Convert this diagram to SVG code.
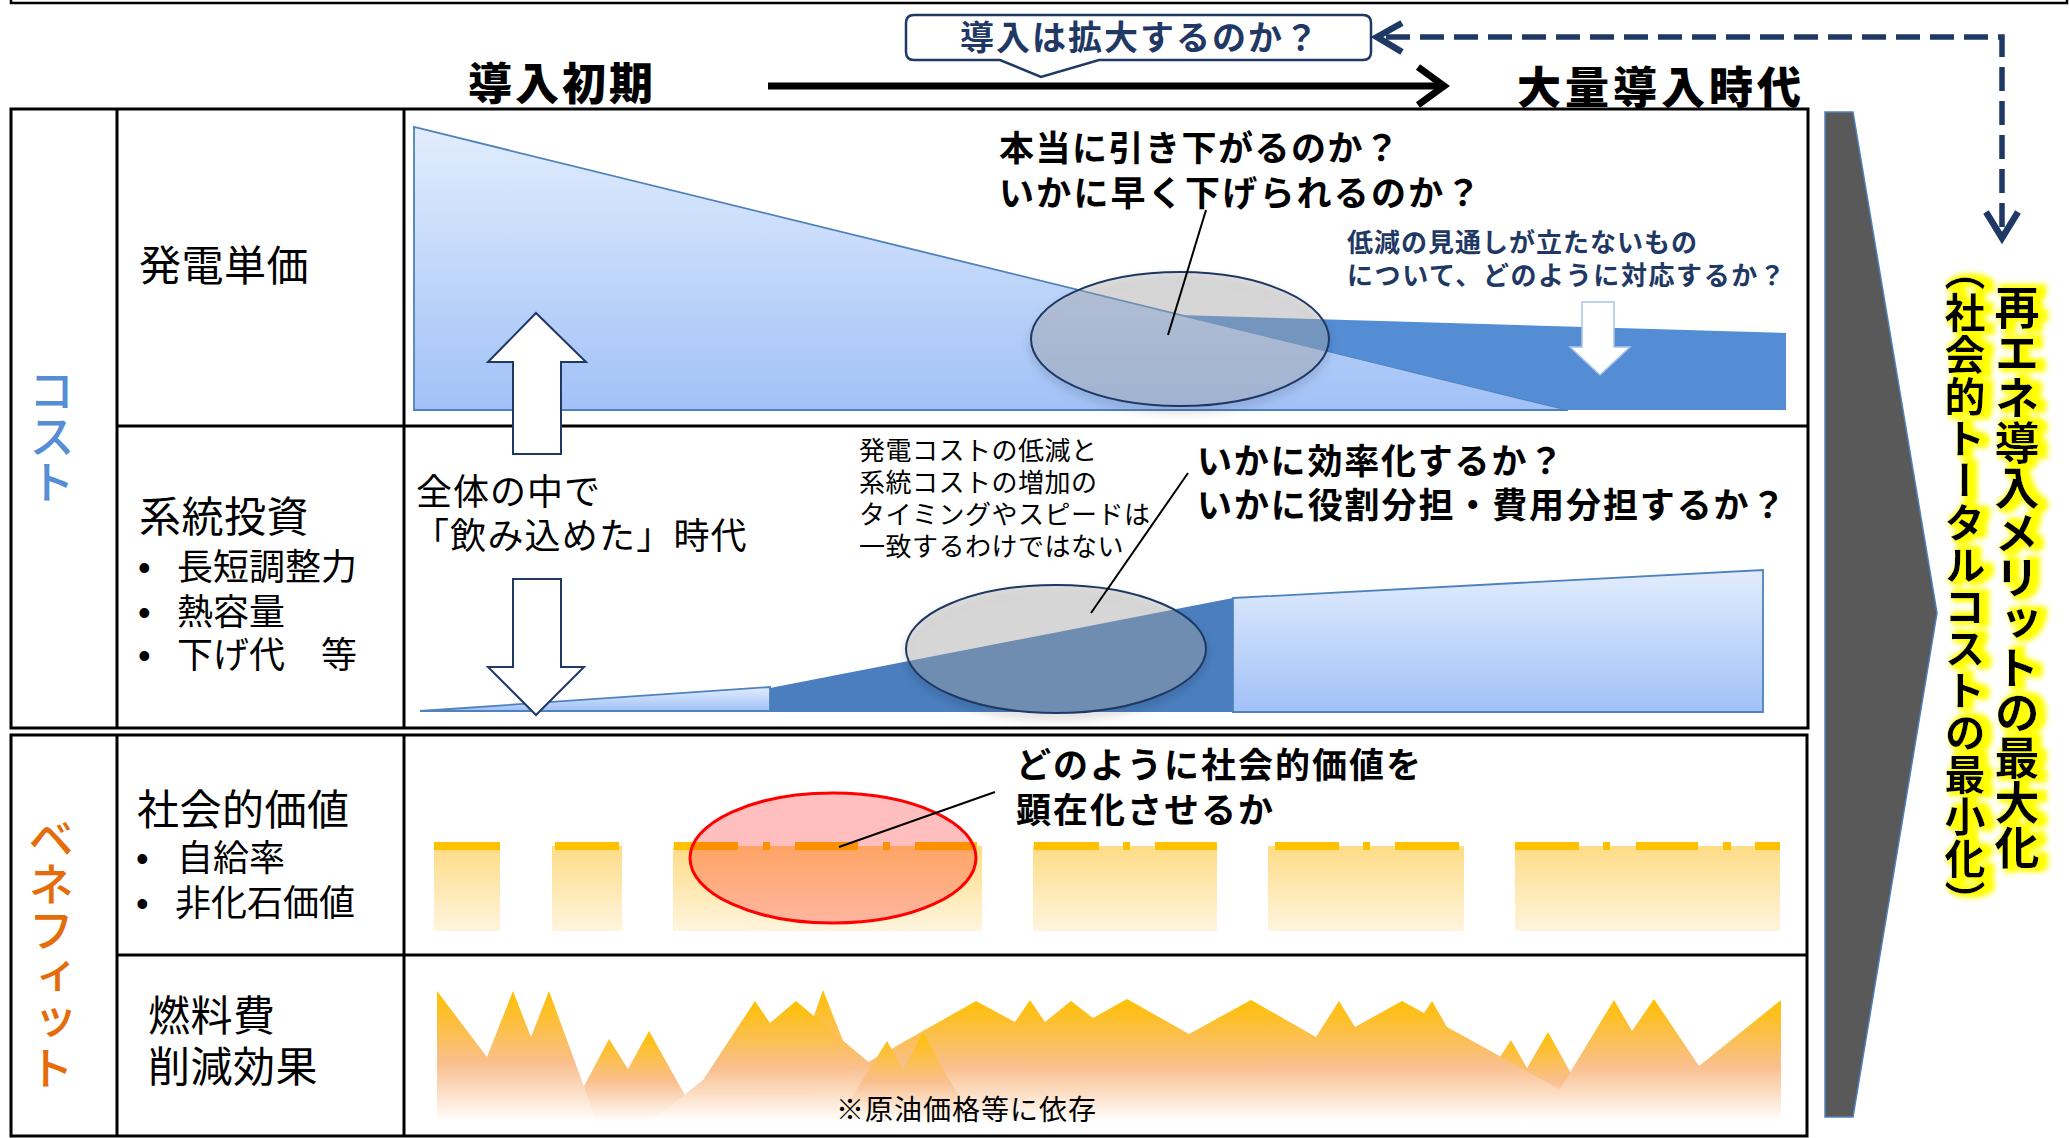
<svg xmlns="http://www.w3.org/2000/svg" width="2069" height="1138" viewBox="0 0 2069 1138">
<defs>
<style>
.t{font-family:"Liberation Sans","Noto Sans CJK JP","Noto Sans",sans-serif;}
.j{font-family:"Noto Sans CJK JP","Noto Sans",sans-serif;}
.lab{font-size:42px;fill:#000;letter-spacing:0.5px;}
.sub{font-size:36px;letter-spacing:0;}
.bul{font-family:"Liberation Sans",sans-serif;font-size:36px;}
.q{font-size:35px;font-weight:700;fill:#000;}
.navy{fill:#1f3864;font-weight:700;}
.grid{fill:none;stroke:#000;stroke-width:3;}
.call{stroke:#000;stroke-width:2;fill:none;}
.warr{fill:#fff;stroke:#1f3864;stroke-width:2;}
.lb{fill:url(#blueGrad);stroke:#4f81bd;stroke-width:1.8;}
.cap{fill:#ffc000;}
.bar{fill:url(#barGrad);}
.mtn{fill:url(#mtnGrad);}
.vert{writing-mode:vertical-rl;}
</style>
<linearGradient id="blueGrad" x1="0" y1="0" x2="0" y2="1">
<stop offset="0" stop-color="#e2edfd"/>
<stop offset="1" stop-color="#a1c1f7"/>
</linearGradient>
<linearGradient id="barGrad" x1="0" y1="0" x2="0" y2="1">
<stop offset="0" stop-color="#fedc86"/>
<stop offset="1" stop-color="#fff5de"/>
</linearGradient>
<linearGradient id="mtnGrad" x1="0" y1="0" x2="0" y2="1">
<stop offset="0" stop-color="#ffc000"/>
<stop offset="0.55" stop-color="#f9bf8e"/>
<stop offset="1" stop-color="#ffffff"/>
</linearGradient>
<filter id="shadow" x="-20%" y="-20%" width="140%" height="150%">
<feDropShadow dx="0" dy="5" stdDeviation="4" flood-color="#000" flood-opacity="0.25"/>
</filter>
<filter id="glow" x="-40%" y="-5%" width="180%" height="110%">
<feMorphology in="SourceAlpha" operator="dilate" radius="4" result="d"/>
<feGaussianBlur in="d" stdDeviation="2.5" result="b"/>
<feOffset in="b" dx="6" dy="0" result="o"/>
<feFlood flood-color="#ffff00"/>
<feComposite in2="o" operator="in" result="g"/>
<feMerge><feMergeNode in="g"/><feMergeNode in="SourceGraphic"/></feMerge>
</filter>
</defs>
<rect width="2069" height="1138" fill="#fff"/>

<!-- top frame line -->
<path d="M11,0 V3 H2067 V0" fill="none" stroke="#000" stroke-width="2.5"/>

<!-- table grid -->
<g id="table">
<rect class="grid" x="11" y="109" width="1797" height="619"/>
<line class="grid" x1="117" y1="109" x2="117" y2="728"/>
<line class="grid" x1="404" y1="109" x2="404" y2="728"/>
<line class="grid" x1="117" y1="426" x2="1808" y2="426"/>
<rect class="grid" x="11" y="735" width="1796" height="401"/>
<line class="grid" x1="117" y1="735" x2="117" y2="1136"/>
<line class="grid" x1="404" y1="735" x2="404" y2="1136"/>
<line class="grid" x1="117" y1="955" x2="1807" y2="955"/>
</g>

<!-- category labels -->
<g id="label-cost"><text class="j vert" x="52" y="367" font-size="46" font-weight="500" fill="#558ed5">コスト</text></g>
<g id="label-benefit"><text class="j vert" x="51" y="815" font-size="46" font-weight="500" fill="#e46c0a">ベネフィット</text></g>

<g id="row-hatsuden"><text class="t lab" x="139" y="281">発電単価</text></g>
<g id="row-keitou">
<text class="t lab" x="139" y="532">系統投資</text>
<text class="bul" x="138" y="580">•</text><text class="t sub" x="177" y="580">長短調整力</text>
<text class="bul" x="138" y="625">•</text><text class="t sub" x="177" y="625">熱容量</text>
<text class="bul" x="138" y="668">•</text><text class="t sub" x="177" y="668">下げ代　等</text>
</g>
<g id="row-shakai">
<text class="t lab" x="137" y="825">社会的価値</text>
<text class="bul" x="136" y="871">•</text><text class="t sub" x="177" y="871">自給率</text>
<text class="bul" x="136" y="916">•</text><text class="t sub" x="175" y="916">非化石価値</text>
</g>
<g id="row-nenryo">
<text class="t lab" x="148" y="1031">燃料費</text>
<text class="t lab" x="148" y="1082">削減効果</text>
</g>

<!-- Row 1 chart -->
<g id="chart-hatsuden">
<polygon class="lb" points="414,127 414,410 1568,410"/>
<polygon points="1179,315 1786,333 1786,410 1568,410" fill="#548dd4"/>
<ellipse cx="1180" cy="339" rx="149" ry="67" fill="#acacac" fill-opacity="0.37" stroke="#1f3864" stroke-width="2" filter="url(#shadow)"/>
<polygon points="1582,302 1614,302 1614,347 1630,347 1600,375 1570,347 1582,347" fill="#fff" stroke="#a9c4ea" stroke-width="1.5"/>
<text class="t q" x="999" y="161" letter-spacing="1.5">本当に引き下がるのか？</text>
<text class="t q" x="999" y="206" letter-spacing="2.2">いかに早く下げられるのか？</text>
<text class="t navy" x="1347" y="252" font-size="26" letter-spacing="1">低減の見通しが立たないもの</text>
<text class="t navy" x="1347" y="285" font-size="26" letter-spacing="1.6">について、どのように対応するか？</text>
</g>

<!-- Row 2 chart -->
<g id="chart-keitou">
<polygon class="lb" points="420,711 770,687 770,711"/>
<polygon points="770,688 1233,598 1233,712 770,712" fill="#4a7ebf"/>
<polygon class="lb" points="1233,598 1763,570 1763,712 1233,712"/>
<ellipse cx="1056" cy="649" rx="150" ry="64" fill="#acacac" fill-opacity="0.37" stroke="#1f3864" stroke-width="2" filter="url(#shadow)"/>
<text class="t" x="416" y="505" font-size="36" letter-spacing="1">全体の中で</text>
<text class="t" x="413" y="549" font-size="36" letter-spacing="1.2">「飲み込めた」時代</text>
<text class="t" x="859" y="460" font-size="26" letter-spacing="0.5">発電コストの低減と</text>
<text class="t" x="859" y="492" font-size="26" letter-spacing="0.5">系統コストの増加の</text>
<text class="t" x="859" y="524" font-size="26" letter-spacing="0.5">タイミングやスピードは</text>
<text class="t" x="859" y="556" font-size="26" letter-spacing="0.5">一致するわけではない</text>
<text class="t q" x="1197" y="474" letter-spacing="1.8">いかに効率化するか？</text>
<text class="t q" x="1197" y="518" letter-spacing="1.9">いかに役割分担・費用分担するか？</text>
</g>

<!-- white block arrows between rows -->
<g id="arrow-up"><polygon class="warr" points="536,313 586,362 561,362 561,454 513,454 513,362 488,362"/></g>
<g id="arrow-down"><polygon class="warr" points="513,579 561,579 561,667 584,667 536,715 488,667 513,667"/></g>

<!-- Row 3 chart -->
<g id="chart-shakai">
<rect class="bar" x="434" y="846" width="66" height="85"/>
<rect class="bar" x="552" y="846" width="70" height="85"/>
<rect class="bar" x="673" y="846" width="309" height="85"/>
<rect class="bar" x="1033" y="846" width="184" height="85"/>
<rect class="bar" x="1268" y="846" width="196" height="85"/>
<rect class="bar" x="1515" y="846" width="265" height="85"/>
<rect class="cap" x="434" y="842" width="66" height="8"/>
<rect class="cap" x="555" y="842" width="64" height="8"/>
<rect class="cap" x="674" y="842" width="64" height="8"/>
<rect class="cap" x="763" y="842" width="7" height="8"/>
<rect class="cap" x="795" y="842" width="63" height="8"/>
<rect class="cap" x="883" y="842" width="7" height="8"/>
<rect class="cap" x="915" y="842" width="62" height="8"/>
<rect class="cap" x="1034" y="842" width="65" height="8"/>
<rect class="cap" x="1123" y="842" width="7" height="8"/>
<rect class="cap" x="1155" y="842" width="62" height="8"/>
<rect class="cap" x="1275" y="842" width="64" height="8"/>
<rect class="cap" x="1363" y="842" width="7" height="8"/>
<rect class="cap" x="1395" y="842" width="64" height="8"/>
<rect class="cap" x="1515" y="842" width="64" height="8"/>
<rect class="cap" x="1603" y="842" width="7" height="8"/>
<rect class="cap" x="1636" y="842" width="62" height="8"/>
<rect class="cap" x="1723" y="842" width="8" height="8"/>
<rect class="cap" x="1755" y="842" width="25" height="8"/>
<ellipse cx="833" cy="858" rx="143" ry="65" fill="#ff0000" fill-opacity="0.25" stroke="#ff0000" stroke-width="3"/>
<text class="t q" x="1016" y="778" letter-spacing="2">どのように社会的価値を</text>
<text class="t q" x="1016" y="823" letter-spacing="2">顕在化させるか</text>
</g>

<!-- Row 4 chart -->
<g id="chart-nenryo">
<polygon class="mtn" points="565,1122 609,1039 628,1069 649,1031 700,1122"/>
<polygon class="mtn" points="437,1122 437,991 487,1057 513,991 531,1037 549,991 597,1122"/>
<polygon class="mtn" points="777,1122 823,990 875,1122"/>
<polygon class="mtn" points="650,1122 684,1095 703,1080 755,1001 770,1023 796,1001 910,1097 940,1122"/>
<polygon class="mtn" points="1458,1122 1511,1040 1527,1068 1548,1032 1598,1122"/>
<polygon class="mtn" points="762,1122 976,1001 1015,1022 1030,1000 1045,1022 1071,1001 1093,1018 1127,999 1189,1034 1251,1000 1316,1037 1339,1001 1355,1027 1402,1001 1424,1013 1432,1001 1447,1027 1585,1103 1620,1122"/>
<polygon class="mtn" points="836,1122 887,1041 903,1069 923,1033 958,1095 973,1122"/>
<polygon class="mtn" points="1540,1122 1614,1000 1632,1031 1654,999 1699,1066 1781,1000 1781,1122"/>
<text class="t" x="836" y="1120" font-size="28" letter-spacing="1">※原油価格等に依存</text>
</g>

<!-- big grey arrow and result -->
<g id="result-arrow"><polygon points="1825,112 1853,112 1937,613 1853,1117 1825,1117" fill="#595959" stroke="#4f81bd" stroke-width="1.5"/></g>
<g id="result-text" filter="url(#glow)">
<text class="j vert" x="2017" y="285" font-size="45" font-weight="700" fill="#000">再エネ導入メリットの最大化</text>
<text class="j vert" x="1965" y="250" font-size="41" font-weight="700" fill="#000" letter-spacing="1">（社会的トータルコストの最小化）</text>
</g>

<!-- headings -->
<g id="heading-early"><text class="j" x="468" y="100" font-size="44" font-weight="900" letter-spacing="3">導入初期</text></g>
<g id="heading-mass"><text class="j" x="1517" y="104" font-size="44" font-weight="900" letter-spacing="4">大量導入時代</text></g>

<!-- bubble -->
<g id="bubble">
<path d="M914,15 H1363 Q1371,15 1371,23 V52 Q1371,60 1363,60 H1099 L1041,77 L1000,60 H914 Q906,60 906,52 V23 Q906,15 914,15 Z" fill="#fff" stroke="#1f3864" stroke-width="2.5"/>
<text class="j navy" x="960" y="50" font-size="34" letter-spacing="2">導入は拡大するのか？</text>
</g>

<!-- connectors -->
<g id="connectors">
<line x1="768" y1="86" x2="1440" y2="86" stroke="#000" stroke-width="7"/>
<polyline points="1418,67 1444,86 1418,105" fill="none" stroke="#000" stroke-width="7"/>
<path d="M1386,37 H2002 V236" fill="none" stroke="#1f3864" stroke-width="5.5" stroke-dasharray="24 10"/>
<polyline points="1402,23 1377,37 1402,52" fill="none" stroke="#1f3864" stroke-width="6.5" stroke-linejoin="miter"/>
<polyline points="1986,212 2002,238 2018,212" fill="none" stroke="#1f3864" stroke-width="6.5"/>
<line class="call" x1="1206" y1="210" x2="1168" y2="335"/>
<line class="call" x1="1188" y1="473" x2="1091" y2="613"/>
<line class="call" x1="995" y1="792" x2="839" y2="847"/>
</g>
</svg>
